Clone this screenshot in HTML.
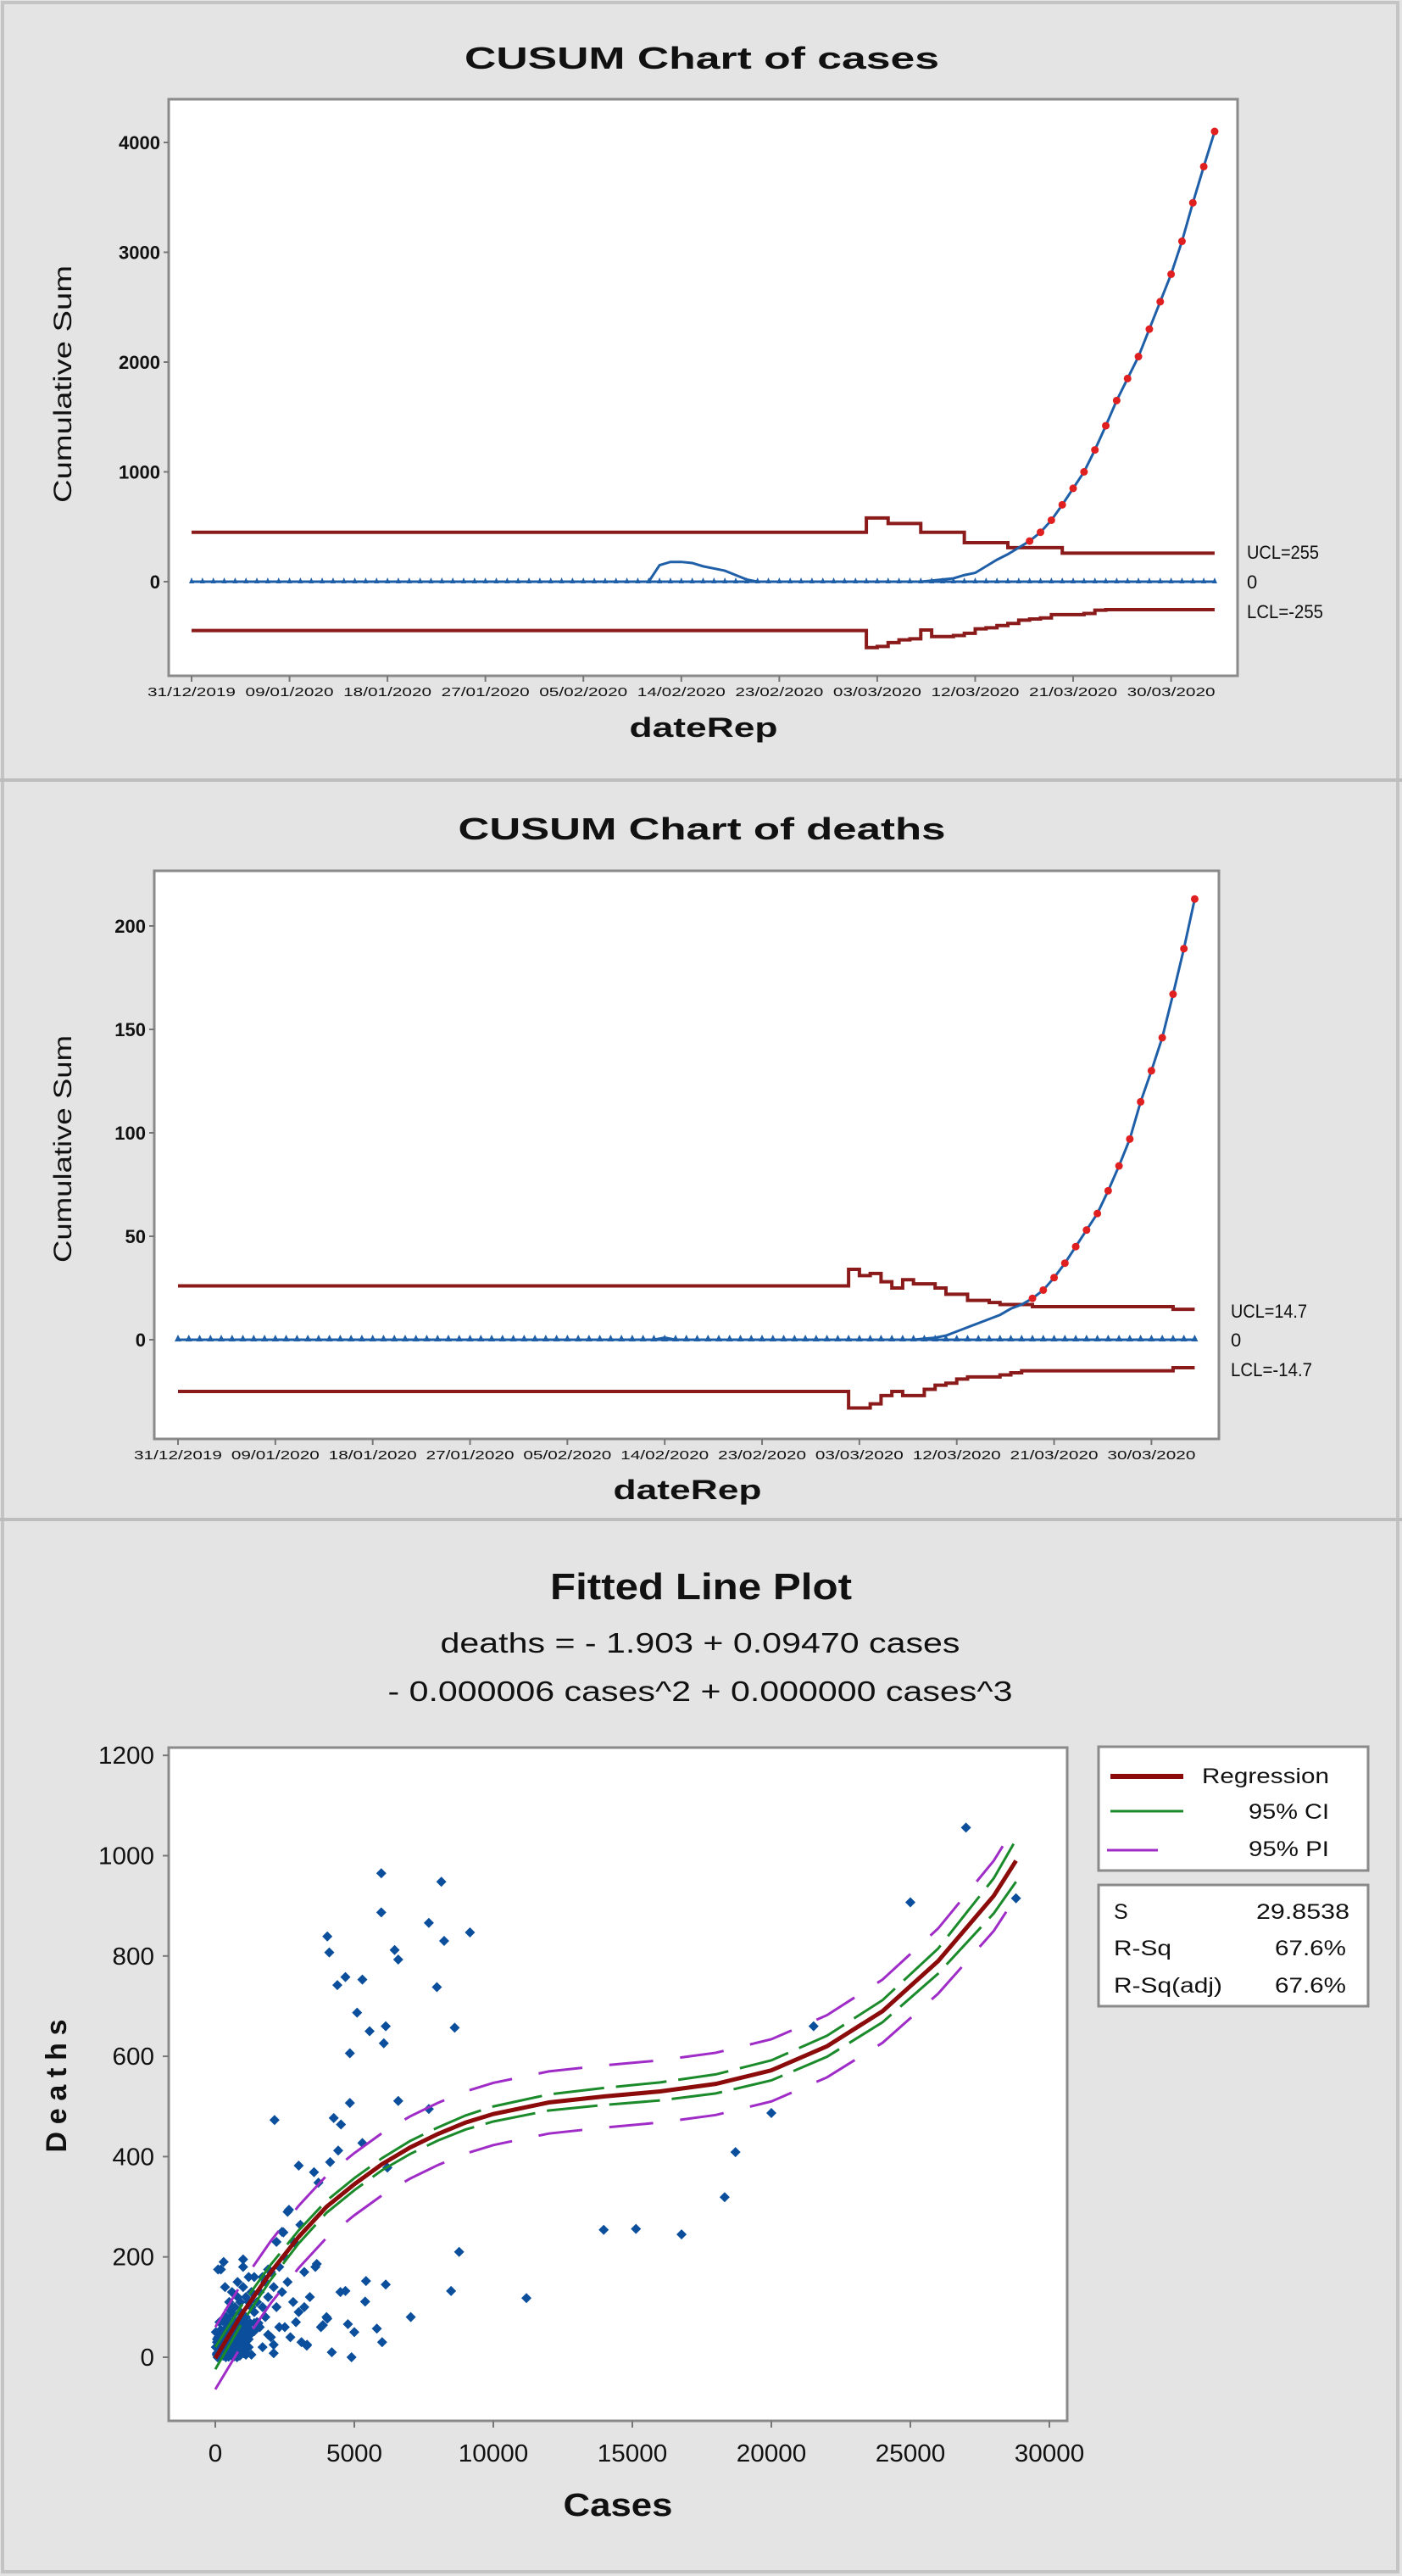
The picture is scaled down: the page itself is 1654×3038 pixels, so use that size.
<!DOCTYPE html>
<html><head><meta charset="utf-8"><style>
html,body{margin:0;padding:0;background:#e4e4e4}
svg{display:block}
text{font-family:"Liberation Sans",sans-serif;fill:#111}
</style></head><body>
<svg id="root" width="1654" height="3038" viewBox="0 0 1654 3038" xmlns="http://www.w3.org/2000/svg">
<rect x="0" y="0" width="1654" height="3038" fill="#e4e4e4"/>
<rect x="3" y="3" width="1646" height="3030" fill="none" stroke="#c4c4c4" stroke-width="4"/>
<line x1="0" y1="920" x2="1654" y2="920" stroke="#bdbdbd" stroke-width="4"/>
<line x1="0" y1="1792" x2="1654" y2="1792" stroke="#bdbdbd" stroke-width="4"/>

<!-- Chart 1 -->
<g>
<text x="828" y="81" text-anchor="middle" font-size="36" font-weight="bold" textLength="560" lengthAdjust="spacingAndGlyphs">CUSUM Chart of cases</text>
<rect x="199" y="117" width="1261" height="680" fill="#fff" stroke="#8a8a8a" stroke-width="3"/>
<text transform="translate(84,453) rotate(-90)" text-anchor="middle" font-size="30" textLength="280" lengthAdjust="spacingAndGlyphs">Cumulative Sum</text>
<text x="830" y="869" text-anchor="middle" font-size="32" font-weight="bold" textLength="175" lengthAdjust="spacingAndGlyphs">dateRep</text>
<text x="1471" y="659" font-size="22" textLength="85" lengthAdjust="spacingAndGlyphs">UCL=255</text>
<text x="1471" y="694" font-size="22">0</text>
<text x="1471" y="729" font-size="22" textLength="90" lengthAdjust="spacingAndGlyphs">LCL=-255</text>
<g id="c1"></g>
</g>

<!-- Chart 2 -->
<g>
<text x="828" y="990" text-anchor="middle" font-size="36" font-weight="bold" textLength="575" lengthAdjust="spacingAndGlyphs">CUSUM Chart of deaths</text>
<rect x="182" y="1027" width="1256" height="670" fill="#fff" stroke="#8a8a8a" stroke-width="3"/>
<text transform="translate(84,1355) rotate(-90)" text-anchor="middle" font-size="30" textLength="268" lengthAdjust="spacingAndGlyphs">Cumulative Sum</text>
<text x="811" y="1768" text-anchor="middle" font-size="32" font-weight="bold" textLength="175" lengthAdjust="spacingAndGlyphs">dateRep</text>
<text x="1452" y="1554" font-size="22" textLength="90" lengthAdjust="spacingAndGlyphs">UCL=14.7</text>
<text x="1452" y="1588" font-size="22">0</text>
<text x="1452" y="1623" font-size="22" textLength="96" lengthAdjust="spacingAndGlyphs">LCL=-14.7</text>
<g id="c2"></g>
</g>

<!-- Chart 3 -->
<g>
<text x="827" y="1886" text-anchor="middle" font-size="44" font-weight="bold" textLength="356" lengthAdjust="spacingAndGlyphs">Fitted Line Plot</text>
<text x="826" y="1949" text-anchor="middle" font-size="33" textLength="613" lengthAdjust="spacingAndGlyphs">deaths = - 1.903 + 0.09470 cases</text>
<text x="826" y="2006" text-anchor="middle" font-size="33" textLength="737" lengthAdjust="spacingAndGlyphs">- 0.000006 cases^2 + 0.000000 cases^3</text>
<rect x="199" y="2061" width="1060" height="794" fill="#fff" stroke="#8a8a8a" stroke-width="3"/>
<text transform="translate(78,2460) rotate(-90)" text-anchor="middle" font-size="34" font-weight="bold" textLength="157" lengthAdjust="spacing">Deaths</text>
<text x="729" y="2967" text-anchor="middle" font-size="38" font-weight="bold" textLength="129" lengthAdjust="spacingAndGlyphs">Cases</text>
<g id="c3"></g>
<g>
<rect x="1296" y="2060" width="318" height="146" fill="#fff" stroke="#8a8a8a" stroke-width="3"/>
<line x1="1310" y1="2095" x2="1396" y2="2095" stroke="#8b0a0a" stroke-width="6"/>
<text x="1568" y="2103" text-anchor="end" font-size="25" textLength="150" lengthAdjust="spacingAndGlyphs">Regression</text>
<line x1="1310" y1="2136" x2="1396" y2="2136" stroke="#1a8a2a" stroke-width="3"/>
<text x="1568" y="2145" text-anchor="end" font-size="25" textLength="95" lengthAdjust="spacingAndGlyphs">95% CI</text>
<line x1="1306" y1="2182" x2="1366" y2="2182" stroke="#a02cc8" stroke-width="3"/>
<text x="1568" y="2189" text-anchor="end" font-size="25" textLength="95" lengthAdjust="spacingAndGlyphs">95% PI</text>
</g>
<g>
<rect x="1296" y="2223" width="318" height="143" fill="#fff" stroke="#8a8a8a" stroke-width="3"/>
<text x="1314" y="2263" font-size="25">S</text>
<text x="1592" y="2263" text-anchor="end" font-size="25" textLength="110" lengthAdjust="spacingAndGlyphs">29.8538</text>
<text x="1314" y="2306" font-size="25" textLength="68" lengthAdjust="spacingAndGlyphs">R-Sq</text>
<text x="1588" y="2306" text-anchor="end" font-size="25" textLength="84" lengthAdjust="spacingAndGlyphs">67.6%</text>
<text x="1314" y="2350" font-size="25" textLength="128" lengthAdjust="spacingAndGlyphs">R-Sq(adj)</text>
<text x="1588" y="2350" text-anchor="end" font-size="25" textLength="84" lengthAdjust="spacingAndGlyphs">67.6%</text>
</g>
</g>
</svg>
<script>
// ---------- data ----------
const dateLabels = ["31/12/2019","09/01/2020","18/01/2020","27/01/2020","05/02/2020","14/02/2020","23/02/2020","03/03/2020","12/03/2020","21/03/2020","30/03/2020"];
const casesTicks = [0,1000,2000,3000,4000];
const casesCusum = [0,0,0,0,0,0,0,0,0,0, 0,0,0,0,0,0,0,0,0,0, 0,0,0,0,0,0,0,0,0,0, 0,0,0,0,0,0,0,0,0,0,
  0,0,0,150,180,180,170,140,120,100, 60,20,0,0,0,0,0,0,0,0, 0,0,0,0,0,0,0,0,10,20,
  30,60,80,140,200,250,310,370,450,560, 700,850,1000,1200,1420,1650,1850,2050,2300,2550, 2800,3100,3450,3780,4100];
const casesUCLsteps = [[0,450],[62,580],[64,530],[67,450],[71,355],[75,310],[80,260]];
const casesLCLsteps = [[0,-445],[62,-600],[63,-590],[64,-555],[65,-530],[66,-520],[67,-440],[68,-500],[70,-490],[71,-470],[72,-430],[73,-420],[74,-400],[75,-380],[76,-350],[77,-340],[78,-330],[79,-300],[82,-290],[83,-260],[84,-255]];

const deathsTicks = [0,50,100,150,200];
const deathsCusum = [0,0,0,0,0,0,0,0,0,0, 0,0,0,0,0,0,0,0,0,0, 0,0,0,0,0,0,0,0,0,0, 0,0,0,0,0,0,0,0,0,0,
  0,0,0,0,0,1,0,0,0,0, 0,0,0,0,0,0,0,0,0,0, 0,0,0,0,0,0,0,0,0,0.5,
  1,2,4,6,8,10,12,15,17,20, 24,30,37,45,53,61,72,84,97,115, 130,146,167,189,213];
const deathsUCLsteps = [[0,26],[62,34],[63,31],[64,32],[65,28],[66,25],[67,29],[68,27],[70,25],[71,22],[73,19],[75,18],[76,17],[79,16],[92,14.7]];
const deathsLCLsteps = [[0,-25],[62,-33],[64,-31],[65,-27],[66,-25],[67,-27],[69,-24],[70,-22],[71,-21],[72,-19],[73,-18],[76,-17],[77,-16],[78,-15],[92,-13.5]];

const fitTicksX = [0,5000,10000,15000,20000,25000,30000];
const fitTicksY = [0,200,400,600,800,1000,1200];
const fitX = [0,1000,2000,3000,4000,5000,6000,7000,8000,9000,10000,12000,14000,16000,18000,20000,22000,24000,26000,28000,28800];
const fitY = [-2,90,170,240,300,345,385,418,445,468,485,508,520,530,545,572,620,690,790,920,990];
const ciHalf = [22,18,15,13,12,12,12,13,13,14,15,16,17,18,19,20,21,22,25,35,42];
const piHalf = [62,62,62,62,62,62,62,62,62,62,62,62,62,62,62,62,62,63,65,70,72];
const ptCases = [5970,8130,5970,7680,9160,4030,8230,6450,6580,4100,4680,5290,4390,7970,5100,8610,6130,5550,6060,4840,6580,4840,7680,4260,4520,2130,6190,5290,4420,3000,3550,4130,3710,2650,3060,2450,2840,3650,8770,13970,15130,16770,18320,18710,20000,21520,25000,27000,28800,11190,8480,7030,6130,5390,4680,5420,4030,4770,5810,6000,5000,4190,4900,3290,3870,
  50,100,150,200,250,300,350,400,450,500,550,600,650,700,750,800,850,900,950,1000,1050,1100,1150,1200,1250,1300,100,200,300,400,500,600,700,800,900,1000,1100,20,20,60,150,250,350,450,550,650,750,850,950,80,180,280,380,480,580,680,780,880,
  400,600,800,1000,1200,1400,1600,1800,2000,700,900,1100,1300,1500,1700,1900,2100,2300,2500,1200,1000,800,600,500,1400,1600,1800,2000,2200,2400,2600,2800,3000,3200,3400,2500,2700,2900,3100,1700,2100,2300,1900,200,350,1000,2400,2200,2600,3200,3600,3800,3300,4000,4500,100,1500,1300,1100,900,700,500,300,1700,1900,2100,
  60,120,180,240,300,360,420,480,540,600,660,720,780,840,900,960,1020,1080,1140,60,120,180,240,300,360,420,480,540,600,660,720,780,840,900,960,1020,1080,1140,1200,60,140,220,300,380,460,540,620,700,780,860,940,1020,1100,1180,1260,200,300,400,500,600,700,800,900,1000,1100,1200,1300,1400,1500,350,500,650,800,950,1100,1250,1400,1550,1700];
const ptDeaths = [965,948,887,866,847,839,830,812,793,807,758,753,742,738,687,657,660,650,626,606,511,507,495,477,464,473,378,427,412,382,369,389,348,294,264,249,229,186,210,254,256,245,319,409,487,660,907,1056,915,118,132,80,145,111,132,152,77,66,57,30,50,10,0,23,64,
  5,10,20,30,15,40,25,50,10,35,55,20,45,5,30,60,15,40,25,50,10,35,55,20,45,5,40,55,5,25,60,45,50,10,60,20,5,20,50,30,70,75,80,65,70,85,60,75,70,0,2,3,0,1,4,2,0,3,
  80,100,120,140,110,90,130,150,170,70,90,80,130,70,100,120,140,180,200,160,180,150,130,95,160,60,80,40,100,130,150,110,90,170,120,60,40,70,30,20,25,60,45,175,140,195,250,230,290,100,180,60,25,80,130,175,110,100,120,110,100,110,190,160,175,
  8,8,8,8,8,8,8,8,8,8,8,8,8,8,8,8,8,8,8,22,22,22,22,22,22,22,22,22,22,22,22,22,22,22,22,22,22,22,22,36,36,36,36,36,36,36,36,36,36,36,36,36,36,36,36,52,52,52,52,52,52,52,52,52,52,52,52,52,52,68,68,68,68,68,68,68,68,68,68];

// ---------- helpers ----------
const NS = "http://www.w3.org/2000/svg";
function mk(parent, tag, attrs) {
  const e = document.createElementNS(NS, tag);
  for (const k in attrs) e.setAttribute(k, attrs[k]);
  parent.appendChild(e);
  return e;
}
function expandSteps(steps, n) {
  const out = [];
  let si = 0;
  for (let d = 0; d < n; d++) {
    while (si + 1 < steps.length && steps[si + 1][0] <= d) si++;
    out.push(steps[si][1]);
  }
  return out;
}

function drawCusum(gid, cfg, cusum, uclSteps, lclSteps, ticks, triSize) {
  const g = document.getElementById(gid);
  const n = cusum.length;
  const X = d => cfg.x0 + d * cfg.dayPx;
  const Y = v => cfg.yZero - v * cfg.yScale;
  const ucl = expandSteps(uclSteps, n);
  const lcl = expandSteps(lclSteps, n);
  ticks.forEach(t => {
    const tk = mk(g, "line", {x1: cfg.l - 6, y1: Y(t), x2: cfg.l, y2: Y(t), stroke: "#777", "stroke-width": 2});
    
    
    const tx = mk(g, "text", {x: cfg.l - 10, y: Y(t) + 8, "text-anchor": "end", "font-size": 22, "font-weight": "bold"});
    tx.textContent = String(t);
    
    
  });
  dateLabels.forEach((lab, i) => {
    const x = X(i * 9);
    const tk = mk(g, "line", {x1: x, y1: cfg.b, x2: x, y2: cfg.b + 7, stroke: "#777", "stroke-width": 2});
    
    
    const tx = mk(g, "text", {x: x, y: cfg.b + 24, "text-anchor": "middle", "font-size": 15, textLength: 104, lengthAdjust: "spacingAndGlyphs", fill: "#333"});
    tx.textContent = lab;
    
    
  });
  function stepPath(arr) {
    let d = "M" + X(0) + "," + Y(arr[0]);
    for (let i = 1; i < n; i++) d += " H" + X(i) + " V" + Y(arr[i]);
    return d;
  }
  const u = mk(g, "path", {d: stepPath(ucl), fill: "none", stroke: "#8b1a1a", "stroke-width": 4});
  
  
  const l = mk(g, "path", {d: stepPath(lcl), fill: "none", stroke: "#8b1a1a", "stroke-width": 4});
  
  
  const base = mk(g, "line", {x1: X(0), y1: Y(0), x2: X(n - 1), y2: Y(0), stroke: "#1f5fa8", "stroke-width": 3});
  
  
  for (let i = 0; i < n; i++) {
    const x = X(i), y = Y(0);
    const tri = mk(g, "path", {d: `M${x - triSize},${y + 2} L${x},${y - triSize - 2} L${x + triSize},${y + 2} Z`, fill: "#1f5fa8"});
    
    
  }
  const pts = cusum.map((v, i) => X(i) + "," + Y(v)).join(" ");
  const pl = mk(g, "polyline", {points: pts, fill: "none", stroke: "#1f5fa8", "stroke-width": 3});
  
  
  cusum.forEach((v, i) => {
    if (v > ucl[i]) {
      const c = mk(g, "circle", {cx: X(i), cy: Y(v), r: 4.5, fill: "#e02020"});
      
      
    }
  });
}

drawCusum("c1", {x0: 226, dayPx: 12.84, yZero: 686, yScale: 0.1295, l: 199, b: 797},
  casesCusum, casesUCLsteps, casesLCLsteps, casesTicks, 3);
drawCusum("c2", {x0: 210, dayPx: 12.76, yZero: 1580, yScale: 2.44, l: 182, b: 1697},
  deathsCusum, deathsUCLsteps, deathsLCLsteps, deathsTicks, 4);

(function () {
  const g = document.getElementById("c3");
  const X = c => 254 + c * 164 / 5000;
  const Y = d => 2780 - d * 118.3 / 200;
  fitTicksY.forEach(t => {
    const tk = mk(g, "line", {x1: 192, y1: Y(t), x2: 199, y2: Y(t), stroke: "#777", "stroke-width": 2});
    
    
    const tx = mk(g, "text", {x: 182, y: Y(t) + 10, "text-anchor": "end", "font-size": 29, textLength: 16.5 * String(t).length, lengthAdjust: "spacingAndGlyphs"});
    tx.textContent = String(t);
    
    
  });
  fitTicksX.forEach(t => {
    const tk = mk(g, "line", {x1: X(t), y1: 2855, x2: X(t), y2: 2863, stroke: "#777", "stroke-width": 2});
    
    
    const tx = mk(g, "text", {x: X(t), y: 2903, "text-anchor": "middle", "font-size": 29, textLength: 16.5 * String(t).length, lengthAdjust: "spacingAndGlyphs"});
    tx.textContent = String(t);
    
    
  });
  ptCases.forEach((c, i) => {
    const x = X(c), y = Y(ptDeaths[i]), s = 6;
    const p = mk(g, "path", {d: `M${x},${y - s} L${x + s},${y} L${x},${y + s} L${x - s},${y} Z`, fill: "#0b4f9c"});
    
    
  });
  function curve(off, sign) {
    return fitX.map((c, i) => X(c) + "," + Y(fitY[i] + sign * (off ? off[i] : 0))).join(" ");
  }
  [[piHalf, 1], [piHalf, -1]].forEach(([o, s]) => {
    const p = mk(g, "polyline", {points: curve(o, s), fill: "none", stroke: "#a02cc8", "stroke-width": 3, "stroke-dasharray": "52 32"});
    
    
  });
  [[ciHalf, 1], [ciHalf, -1]].forEach(([o, s]) => {
    const p = mk(g, "polyline", {points: curve(o, s), fill: "none", stroke: "#1a8a2a", "stroke-width": 3, "stroke-dasharray": "60 14"});
    
    
  });
  const r = mk(g, "polyline", {points: curve(null, 0), fill: "none", stroke: "#8b0a0a", "stroke-width": 5});
  
  
})();
</script>
</body></html>
